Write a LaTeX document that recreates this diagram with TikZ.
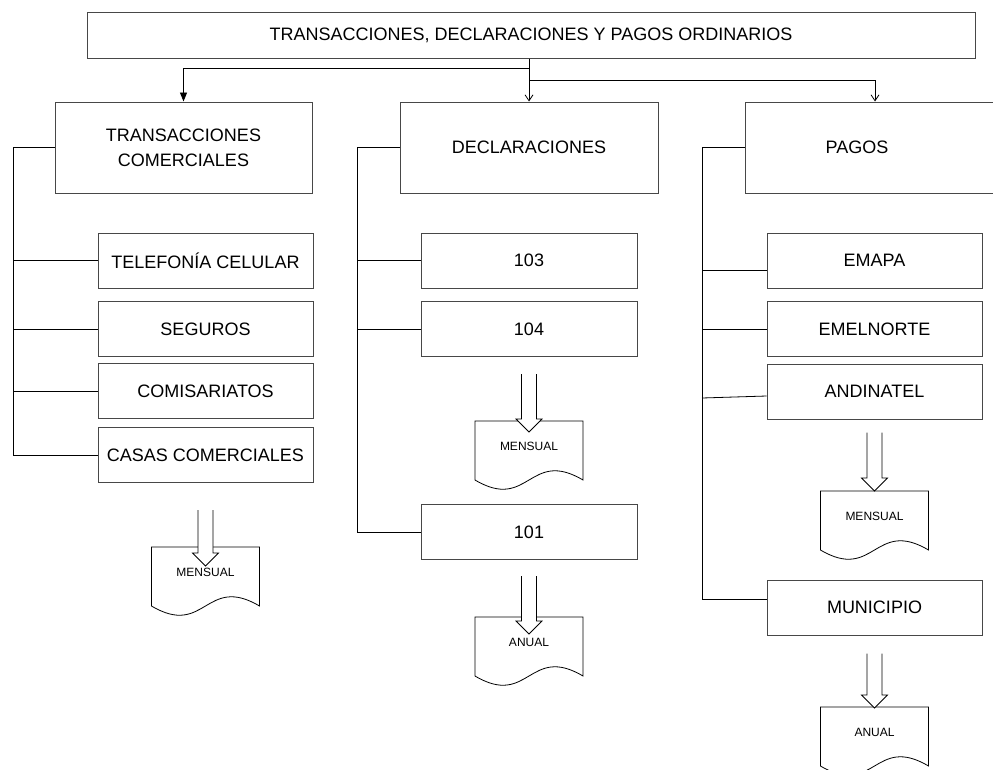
\documentclass[tikz,border=0pt]{standalone}
\usepackage{fontspec}
\setmainfont{Liberation Sans}
\usetikzlibrary{calc,arrows.meta}
\pgfdeclarelayer{background}
\pgfsetlayers{background,main}
\tikzset{
  box/.style={draw=black!72, line width=1pt, rectangle, inner sep=0pt, align=center,
    font=\fontsize{18}{25}\selectfont},
  sub/.style={box, minimum width=215pt, minimum height=55pt},
  conn/.style={draw=black, line width=0.8pt},
  doctext/.style={inner sep=0pt, font=\fontsize{12}{14}\selectfont},
  docline/.style={draw=black, line width=0.8pt},
}
\newcommand\docshape[1]{%
  \draw[docline] ($(#1.center)+(-54,-25)$) -- ($(#1.center)+(54,-25)$) -- ($(#1.center)+(54,34)$)
    .. controls ($(#1.center)+(0,2)$) and ($(#1.center)+(0,66)$) .. ($(#1.center)+(-54,34)$) -- cycle;}
\newcommand\blockarr[2]{%
  \fill[white] let \p1=#1, \p2=#2 in (\x1-7.5pt,\y1) -- (\x1-7.5pt,\y2+13pt) -- (\x1-13pt,\y2+13pt)
    -- (\x2,\y2) -- (\x1+13pt,\y2+13pt) -- (\x1+7.5pt,\y2+13pt) -- (\x1+7.5pt,\y1) -- cycle;
  \draw[docline] let \p1=#1, \p2=#2 in (\x1-7.5pt,\y1) -- (\x1-7.5pt,\y2+13pt) -- (\x1-13pt,\y2+13pt)
    -- (\x2,\y2) -- (\x1+13pt,\y2+13pt) -- (\x1+7.5pt,\y2+13pt) -- (\x1+7.5pt,\y1);}
\begin{document}
\begin{tikzpicture}[x=1pt,y=-1pt]
\useasboundingbox (0,0) rectangle (993,769);
\clip (0,0) rectangle (993,769);
% top
\node[box, minimum width=888pt, minimum height=46pt] (top) at (531,35) {TRANSACCIONES, DECLARACIONES Y PAGOS ORDINARIOS};
% columns
\node[box, minimum width=257pt, minimum height=91pt] (tc) at (183.5,147.5) {TRANSACCIONES\\COMERCIALES};
\node[box, minimum width=258pt, minimum height=91pt] (decl) at (529,147.5) {DECLARACIONES};
\node[box, minimum width=260pt, minimum height=91pt] (pagos) at (875,147.5) {\hspace*{-36pt}PAGOS};
% left sub boxes
\node[sub] (tel) at (205.5,260.5) {TELEFONÍA CELULAR};
\node[sub] (seg) at (205.5,329) {SEGUROS};
\node[sub] (com) at (205.5,391) {COMISARIATOS};
\node[sub] (casas) at (205.5,455) {CASAS COMERCIALES};
% middle sub boxes
\node[sub, minimum width=216pt] (n103) at (529,260.5) {103};
\node[sub, minimum width=216pt] (n104) at (529,329) {104};
\node[sub, minimum width=216pt] (n101) at (529,532) {101};
% right sub boxes
\node[sub] (emapa) at (874.5,260.5) {EMAPA};
\node[sub] (emel) at (874.5,329) {EMELNORTE};
\node[sub] (andi) at (874.5,391.5) {ANDINATEL};
\node[sub] (muni) at (874.5,607.5) {MUNICIPIO};
% documents
\node[doctext] (d1) at (205.5,572) {MENSUAL};
\node[doctext] (d2) at (529,446) {MENSUAL};
\node[doctext] (d3) at (529,642) {ANUAL};
\node[doctext] (d4) at (874.5,516) {MENSUAL};
\node[doctext] (d5) at (874.5,732) {ANUAL};
% spines
\coordinate (ls) at (13,0);
\coordinate (ms) at (357,0);
\coordinate (rs) at (702,0);
% top connectors
\coordinate (stem) at (top.south -| decl.north);
\draw[conn,-{Straight Barb[length=6pt,width=8pt]}] (stem) -- (decl.north);
\draw[conn,-{Triangle[length=9pt,width=7pt]}] (stem) -- ++(0,10) -| (tc.north);
\draw[conn,-{Straight Barb[length=6pt,width=8pt]}] ($(stem)+(0,22)$) -| (pagos.north);
% left tree
\draw[conn] (tc.west) -| (ls |- casas.west) -- (casas.west);
\draw[conn] (ls |- tel.west) -- (tel.west);
\draw[conn] (ls |- seg.west) -- (seg.west);
\draw[conn] (ls |- com.west) -- (com.west);
% middle tree
\draw[conn] (decl.west) -| (ms |- n101.west) -- (n101.west);
\draw[conn] (ms |- n103.west) -- (n103.west);
\draw[conn] (ms |- n104.west) -- (n104.west);
% right tree
\draw[conn] (pagos.west) -| (rs |- {$(muni.west)+(0,-8)$}) -- ($(muni.west)+(0,-8)$);
\draw[conn] (rs |- {$(emapa.west)+(0,9.5)$}) -- ($(emapa.west)+(0,9.5)$);
\draw[conn] (rs |- emel.west) -- (emel.west);
\draw[conn] ($(rs |- andi.west)+(0,6.5)$) -- ($(andi.west)+(0,4.5)$);
% documents and block arrows
\begin{pgfonlayer}{background}
\docshape{d1}
\docshape{d2}
\docshape{d3}
\docshape{d4}
\docshape{d5}
\blockarr{($(casas.south)+(0,27)$)}{($(d1.center)+(0,-6)$)}
\blockarr{($(n104.south)+(0,17)$)}{($(d2.center)+(0,-14)$)}
\blockarr{($(n101.south)+(0,16)$)}{($(d3.center)+(0,-8)$)}
\blockarr{($(andi.south)+(0,13)$)}{($(d4.center)+(0,-25)$)}
\blockarr{($(muni.south)+(0,18)$)}{($(d5.center)+(0,-24)$)}
\end{pgfonlayer}
\end{tikzpicture}
\end{document}
